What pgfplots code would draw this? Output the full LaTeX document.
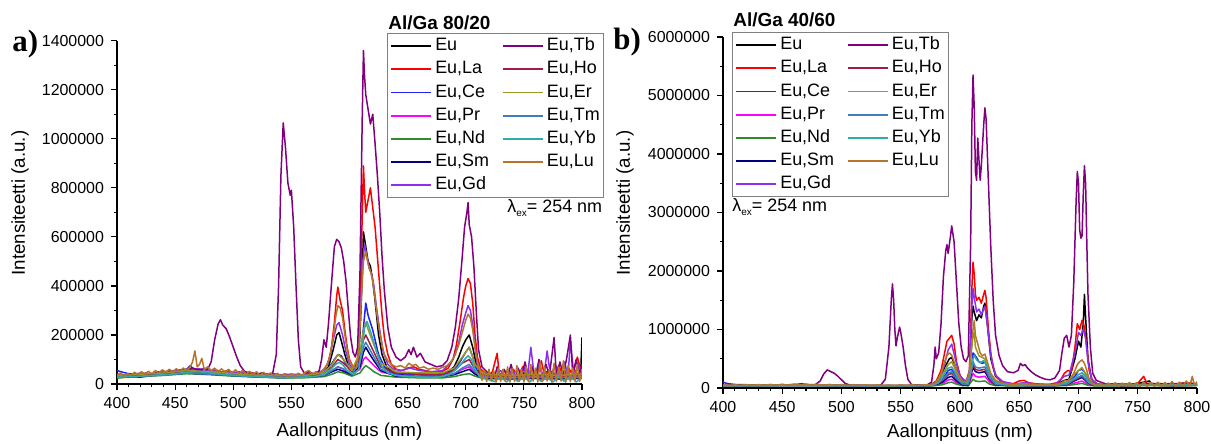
\documentclass[border=0pt]{standalone}
\usepackage{fontspec}
\setmainfont{Liberation Sans}
\newfontfamily\serifb{Liberation Serif}
\usepackage{pgfplots}
\pgfplotsset{compat=1.18}
\definecolor{cEu}{HTML}{000000}
\definecolor{cLa}{HTML}{FF0000}
\definecolor{cCe}{HTML}{1F1FFF}
\definecolor{cPr}{HTML}{FF00FF}
\definecolor{cNd}{HTML}{2E8B2E}
\definecolor{cSm}{HTML}{000080}
\definecolor{cGd}{HTML}{8C30F0}
\definecolor{cTb}{HTML}{800080}
\definecolor{cHo}{HTML}{A01E45}
\definecolor{cEr}{HTML}{999926}
\definecolor{cTm}{HTML}{3F7FBF}
\definecolor{cYb}{HTML}{33AAAA}
\definecolor{cLu}{HTML}{B5762C}
\pgfplotsset{
  spec/.style={
    scale only axis,
    axis x line*=bottom, axis y line*=left,
    xmin=400, xmax=800, xtick={400,450,500,550,600,650,700,750,800}, minor x tick num=4,
    ymin=0,
    tick align=outside, major tick length=3bp, minor tick length=1.6bp,
    tick style={black, line width=0.6bp},
    axis line style={line width=0.75bp},
    tick label style={font=\fontsize{8}{9}\selectfont},
    /pgf/number format/assume math mode=true,
    scaled y ticks=false,
    yticklabel style={/pgf/number format/fixed,/pgf/number format/1000 sep={}},
    label style={font=\fontsize{9.4}{11}\selectfont},
    xlabel={Aallonpituus (nm)}, ylabel={Intensiteetti (a.u.)},
    every axis plot/.append style={line width=0.75bp, line join=round},
    legend columns=2, legend cell align=left,
    legend style={draw=gray, line width=0.5bp, font=\fontsize{9}{10}\selectfont,
      inner xsep=1.5bp, inner ysep=0.5bp, column sep=1bp,
      nodes={inner xsep=0.5bp, inner ysep=1.5bp, text height=6.6bp, text depth=2bp},
      /tikz/every even column/.append style={column sep=6bp}},
    legend image code/.code={\draw[#1, line width=0.9bp] (0bp,0bp) -- (20bp,0bp);},
  }
}
\newcommand\speclegend{%
\addlegendimage{cEu}\addlegendentry{Eu}
\addlegendimage{cTb}\addlegendentry{Eu,Tb}
\addlegendimage{cLa}\addlegendentry{Eu,La}
\addlegendimage{cHo}\addlegendentry{Eu,Ho}
\addlegendimage{cCe}\addlegendentry{Eu,Ce}
\addlegendimage{cEr}\addlegendentry{Eu,Er}
\addlegendimage{cPr}\addlegendentry{Eu,Pr}
\addlegendimage{cTm}\addlegendentry{Eu,Tm}
\addlegendimage{cNd}\addlegendentry{Eu,Nd}
\addlegendimage{cYb}\addlegendentry{Eu,Yb}
\addlegendimage{cSm}\addlegendentry{Eu,Sm}
\addlegendimage{cLu}\addlegendentry{Eu,Lu}
\addlegendimage{cGd}\addlegendentry{Eu,Gd}
}
\begin{document}
\begin{tikzpicture}
\path[use as bounding box] (0,0) rectangle (605.5bp,222bp);
% ---------------- panel a ----------------
\begin{axis}[spec, at={(58.5bp,30bp)}, anchor=south west,
  width=232.5bp, height=171.65bp,
  ymax=1400000, ytick={0,200000,400000,600000,800000,1000000,1200000,1400000}, minor y tick num=1,
  xlabel style={at={(axis description cs:0.5,-0.14)},anchor=center},
  ylabel style={at={(axis description cs:-0.2086,0.527)},anchor=center,rotate=0},
  legend style={at={(0.5806,1.0224)},anchor=north west}]
\speclegend
% Eu
\addplot[cEu,forget plot] coordinates {(400,25e3)(410,30e3)(420,28e3)(430,35e3)(440,38e3)(450,45e3)(460,50e3)(470,48e3)(480,42e3)(490,38e3)(500,35e3)(510,32e3)(520,30e3)(530,28e3)(540,27e3)(550,28e3)(560,30e3)(570,32e3)(578,45e3)(582,70e3)(586,140e3)(589,200e3)(591,210e3)(593,175e3)(596,120e3)(599,75e3)(603,50e3)(607,60e3)(609,200e3)(611,450e3)(612,620e3)(614,560e3)(616,500e3)(618,480e3)(620,420e3)(622,340e3)(625,200e3)(628,120e3)(632,70e3)(638,45e3)(645,40e3)(655,45e3)(665,40e3)(675,38e3)(685,50e3)(690,70e3)(694,110e3)(697,150e3)(700,180e3)(703,200e3)(706,150e3)(709,80e3)(713,40e3)(720,30e3)(730,40e3)(740,25e3)(750,45e3)(760,25e3)(770,50e3)(780,30e3)(790,55e3)(795,30e3)(799,60e3)(800,190e3)};
% La
\addplot[cLa,forget plot] coordinates {(400,25e3)(405,35e3)(410,28e3)(415,38e3)(420,32e3)(425,42e3)(430,36e3)(435,48e3)(440,40e3)(445,50e3)(450,45e3)(455,55e3)(460,50e3)(465,62e3)(470,55e3)(475,60e3)(480,52e3)(485,58e3)(490,48e3)(495,55e3)(500,45e3)(505,50e3)(510,42e3)(515,48e3)(520,38e3)(525,45e3)(530,35e3)(535,42e3)(540,33e3)(545,40e3)(550,32e3)(555,38e3)(560,35e3)(565,45e3)(570,38e3)(575,48e3)(578,60e3)(581,80e3)(584,130e3)(587,250e3)(589,360e3)(590,395e3)(592,340e3)(594,300e3)(596,220e3)(598,150e3)(600,100e3)(603,70e3)(606,65e3)(608,150e3)(610,500e3)(612,890e3)(613,780e3)(614,700e3)(616,750e3)(618,800e3)(620,720e3)(622,640e3)(624,520e3)(626,400e3)(628,280e3)(630,190e3)(633,120e3)(636,80e3)(640,60e3)(645,55e3)(650,65e3)(655,70e3)(660,60e3)(665,55e3)(670,50e3)(675,48e3)(680,52e3)(685,65e3)(689,100e3)(692,160e3)(695,250e3)(698,350e3)(700,400e3)(702,430e3)(704,410e3)(706,330e3)(708,200e3)(710,110e3)(713,60e3)(717,45e3)(720,35e3)(723,50e3)(727,125e3)(729,30e3)(733,55e3)(737,25e3)(741,60e3)(745,30e3)(749,70e3)(753,30e3)(757,60e3)(761,35e3)(765,95e3)(768,30e3)(772,60e3)(776,35e3)(780,75e3)(784,30e3)(788,70e3)(792,35e3)(796,110e3)(800,40e3)};
% Ce
\addplot[cCe,forget plot] coordinates {(400,55e3)(405,48e3)(410,42e3)(420,40e3)(430,42e3)(440,45e3)(450,50e3)(455,55e3)(460,60e3)(463,75e3)(466,60e3)(470,55e3)(480,48e3)(490,42e3)(500,38e3)(510,34e3)(520,30e3)(530,28e3)(540,25e3)(550,26e3)(560,28e3)(570,30e3)(578,45e3)(583,70e3)(587,100e3)(590,120e3)(593,115e3)(596,90e3)(600,60e3)(605,45e3)(609,90e3)(611,180e3)(613,280e3)(614,330e3)(616,280e3)(618,250e3)(620,220e3)(622,180e3)(625,120e3)(630,70e3)(636,45e3)(645,35e3)(655,40e3)(665,35e3)(675,32e3)(685,45e3)(690,60e3)(695,90e3)(700,130e3)(703,150e3)(706,110e3)(710,50e3)(715,30e3)(725,25e3)(735,35e3)(745,20e3)(755,40e3)(765,20e3)(775,45e3)(785,25e3)(795,40e3)(800,25e3)};
% Pr
\addplot[cPr,forget plot] coordinates {(400,30e3)(420,35e3)(440,40e3)(460,50e3)(480,45e3)(500,38e3)(520,32e3)(540,30e3)(560,30e3)(578,38e3)(585,55e3)(590,70e3)(595,60e3)(602,40e3)(609,60e3)(612,100e3)(614,110e3)(617,95e3)(621,75e3)(627,50e3)(640,35e3)(660,32e3)(680,32e3)(690,42e3)(697,60e3)(703,70e3)(708,45e3)(715,28e3)(740,25e3)(760,30e3)(780,25e3)(800,30e3)};
% Nd
\addplot[cNd,forget plot] coordinates {(400,25e3)(420,30e3)(440,35e3)(460,42e3)(480,38e3)(500,32e3)(520,28e3)(540,25e3)(560,25e3)(578,30e3)(585,40e3)(590,50e3)(595,45e3)(602,32e3)(609,45e3)(612,65e3)(614,75e3)(617,65e3)(621,50e3)(627,35e3)(640,28e3)(660,25e3)(680,25e3)(690,30e3)(697,38e3)(703,42e3)(708,32e3)(715,22e3)(740,20e3)(760,22e3)(780,20e3)(800,22e3)};
% Sm
\addplot[cSm,forget plot] coordinates {(400,30e3)(420,33e3)(440,38e3)(460,45e3)(480,40e3)(500,35e3)(520,30e3)(540,28e3)(560,28e3)(578,35e3)(585,50e3)(590,60e3)(595,52e3)(602,38e3)(609,70e3)(612,130e3)(614,150e3)(617,125e3)(621,95e3)(627,55e3)(640,32e3)(660,30e3)(680,30e3)(690,38e3)(697,50e3)(703,60e3)(708,40e3)(715,25e3)(740,22e3)(760,25e3)(780,22e3)(800,25e3)};
% Gd
\addplot[cGd,forget plot] coordinates {(400,40e3)(410,35e3)(420,45e3)(430,40e3)(440,50e3)(450,55e3)(460,60e3)(470,62e3)(480,55e3)(490,50e3)(500,48e3)(510,45e3)(520,42e3)(530,40e3)(540,38e3)(550,40e3)(560,38e3)(570,42e3)(578,55e3)(582,90e3)(586,180e3)(589,240e3)(591,250e3)(594,200e3)(597,130e3)(600,80e3)(604,60e3)(607,80e3)(609,250e3)(611,480e3)(613,570e3)(615,520e3)(617,470e3)(619,450e3)(621,400e3)(623,320e3)(626,220e3)(629,130e3)(633,80e3)(638,60e3)(645,55e3)(652,65e3)(660,55e3)(670,50e3)(680,55e3)(686,80e3)(690,110e3)(694,170e3)(697,240e3)(700,290e3)(702,320e3)(704,300e3)(706,240e3)(708,150e3)(710,80e3)(714,45e3)(720,40e3)(725,25e3)(730,55e3)(735,20e3)(740,60e3)(745,25e3)(750,70e3)(753,25e3)(756,150e3)(759,30e3)(763,75e3)(767,25e3)(770,135e3)(773,30e3)(777,80e3)(781,30e3)(785,90e3)(788,30e3)(790,180e3)(793,35e3)(797,80e3)(800,40e3)};
% Tb
\addplot[cTb,forget plot] coordinates {(400,30e3)(405,38e3)(410,28e3)(415,40e3)(420,35e3)(425,45e3)(430,38e3)(435,50e3)(440,45e3)(445,55e3)(450,48e3)(455,58e3)(460,55e3)(465,65e3)(470,58e3)(475,62e3)(478,60e3)(481,90e3)(484,180e3)(487,245e3)(489,262e3)(491,240e3)(494,225e3)(497,190e3)(500,150e3)(503,110e3)(506,75e3)(510,50e3)(515,45e3)(520,40e3)(525,45e3)(530,38e3)(534,45e3)(537,120e3)(539,400e3)(541,850e3)(543,1065e3)(545,960e3)(547,820e3)(549,770e3)(550,790e3)(552,640e3)(554,400e3)(556,180e3)(558,70e3)(561,45e3)(565,50e3)(570,40e3)(574,55e3)(576,100e3)(578,180e3)(580,150e3)(582,250e3)(585,440e3)(587,560e3)(589,590e3)(591,580e3)(593,555e3)(595,500e3)(597,420e3)(599,300e3)(601,190e3)(603,130e3)(605,110e3)(607,150e3)(609,450e3)(611,1100e3)(612,1360e3)(613,1250e3)(614,1180e3)(616,1120e3)(618,1060e3)(620,1100e3)(622,980e3)(624,850e3)(626,700e3)(628,520e3)(630,380e3)(633,230e3)(636,150e3)(640,110e3)(644,95e3)(648,110e3)(651,140e3)(653,120e3)(655,150e3)(658,110e3)(661,125e3)(665,90e3)(670,80e3)(675,70e3)(680,75e3)(684,95e3)(688,150e3)(691,230e3)(694,350e3)(697,520e3)(699,640e3)(701,700e3)(702,740e3)(703,650e3)(705,600e3)(707,480e3)(709,300e3)(711,140e3)(714,70e3)(718,50e3)(722,40e3)(725,30e3)(727,70e3)(730,25e3)(733,60e3)(736,30e3)(739,80e3)(742,25e3)(745,65e3)(748,30e3)(751,90e3)(754,25e3)(757,70e3)(760,30e3)(763,100e3)(766,30e3)(769,80e3)(772,35e3)(776,190e3)(778,30e3)(781,90e3)(784,35e3)(787,110e3)(790,200e3)(792,40e3)(795,100e3)(798,40e3)(800,80e3)};
% Ho
\addplot[cHo,forget plot] coordinates {(400,32e3)(420,36e3)(440,42e3)(460,52e3)(480,46e3)(500,40e3)(520,34e3)(540,32e3)(560,32e3)(578,42e3)(585,70e3)(590,100e3)(595,85e3)(602,50e3)(609,110e3)(612,180e3)(614,200e3)(617,170e3)(621,130e3)(627,70e3)(640,45e3)(660,40e3)(680,40e3)(690,55e3)(697,85e3)(703,100e3)(708,60e3)(715,35e3)(740,30e3)(760,35e3)(780,30e3)(800,35e3)};
% Er
\addplot[cEr,forget plot] coordinates {(400,35e3)(420,40e3)(440,45e3)(460,55e3)(480,50e3)(500,42e3)(520,36e3)(540,34e3)(560,34e3)(578,45e3)(585,80e3)(590,120e3)(595,100e3)(602,55e3)(609,130e3)(612,220e3)(614,250e3)(617,210e3)(621,160e3)(627,85e3)(640,50e3)(660,45e3)(680,45e3)(690,65e3)(697,110e3)(703,150e3)(708,80e3)(715,40e3)(740,35e3)(760,40e3)(780,35e3)(800,40e3)};
% Tm
\addplot[cTm,forget plot] coordinates {(400,28e3)(420,32e3)(440,36e3)(460,44e3)(480,40e3)(500,34e3)(520,30e3)(540,28e3)(560,28e3)(578,35e3)(585,55e3)(590,70e3)(595,62e3)(602,40e3)(609,90e3)(612,150e3)(614,170e3)(617,145e3)(621,110e3)(627,60e3)(640,35e3)(660,30e3)(680,30e3)(690,42e3)(697,65e3)(703,80e3)(708,50e3)(715,28e3)(740,25e3)(760,28e3)(780,25e3)(800,28e3)};
% Yb
\addplot[cYb,forget plot] coordinates {(400,28e3)(410,30e3)(420,32e3)(430,35e3)(440,38e3)(450,42e3)(460,48e3)(470,50e3)(480,45e3)(490,40e3)(500,36e3)(510,33e3)(520,30e3)(530,28e3)(540,26e3)(550,27e3)(560,28e3)(570,30e3)(578,40e3)(584,60e3)(588,80e3)(591,88e3)(594,80e3)(598,55e3)(603,40e3)(608,60e3)(611,150e3)(613,230e3)(615,255e3)(617,230e3)(619,200e3)(621,170e3)(624,120e3)(628,70e3)(633,45e3)(640,35e3)(650,30e3)(660,28e3)(670,26e3)(680,30e3)(688,45e3)(694,70e3)(699,100e3)(702,115e3)(705,100e3)(708,60e3)(712,30e3)(718,20e3)(725,10e3)(730,30e3)(735,8e3)(740,28e3)(745,10e3)(750,30e3)(755,8e3)(760,32e3)(765,10e3)(770,28e3)(775,8e3)(780,30e3)(785,10e3)(790,32e3)(795,8e3)(800,28e3)};
% Lu
\addplot[cLu,forget plot] coordinates {(400,35e3)(403,45e3)(406,30e3)(409,42e3)(412,35e3)(415,48e3)(418,38e3)(421,50e3)(424,40e3)(427,52e3)(430,42e3)(433,55e3)(436,45e3)(439,58e3)(442,48e3)(445,60e3)(448,50e3)(451,62e3)(454,52e3)(457,65e3)(460,55e3)(463,70e3)(465,90e3)(467,135e3)(469,70e3)(471,80e3)(473,105e3)(475,60e3)(478,70e3)(481,55e3)(484,65e3)(487,50e3)(490,62e3)(493,48e3)(496,60e3)(499,45e3)(502,58e3)(505,42e3)(508,55e3)(511,40e3)(514,52e3)(517,38e3)(520,50e3)(523,35e3)(526,48e3)(529,35e3)(532,45e3)(535,32e3)(538,44e3)(541,32e3)(544,42e3)(547,30e3)(550,42e3)(553,32e3)(556,44e3)(559,35e3)(562,48e3)(565,55e3)(568,40e3)(571,50e3)(574,42e3)(577,55e3)(580,70e3)(583,110e3)(586,190e3)(588,270e3)(590,320e3)(592,310e3)(594,270e3)(596,200e3)(598,140e3)(600,95e3)(603,70e3)(606,65e3)(608,130e3)(610,330e3)(612,500e3)(614,540e3)(616,490e3)(618,460e3)(620,420e3)(622,350e3)(624,270e3)(626,210e3)(628,160e3)(630,120e3)(633,95e3)(636,80e3)(640,70e3)(644,75e3)(648,65e3)(651,85e3)(654,75e3)(657,80e3)(660,65e3)(664,70e3)(668,60e3)(672,65e3)(676,60e3)(680,68e3)(684,75e3)(688,95e3)(691,120e3)(694,160e3)(697,210e3)(700,260e3)(702,285e3)(704,270e3)(706,220e3)(708,150e3)(710,90e3)(712,60e3)(714,15e3)(716,55e3)(718,10e3)(720,60e3)(722,12e3)(724,55e3)(726,8e3)(728,65e3)(730,10e3)(732,60e3)(734,12e3)(736,70e3)(738,8e3)(740,62e3)(742,10e3)(744,75e3)(746,12e3)(748,60e3)(750,8e3)(752,70e3)(754,10e3)(756,80e3)(758,12e3)(760,65e3)(762,8e3)(764,90e3)(766,10e3)(768,70e3)(770,12e3)(772,60e3)(774,8e3)(776,85e3)(778,10e3)(780,70e3)(782,12e3)(784,95e3)(786,8e3)(788,75e3)(790,10e3)(792,65e3)(794,12e3)(796,80e3)(798,10e3)(800,60e3)};
\end{axis}
% ---------------- panel b ----------------
\begin{axis}[spec, at={(361.5bp,28bp)}, anchor=south west,
  width=237bp, height=175.5bp,
  ymax=6000000, ytick={0,1000000,2000000,3000000,4000000,5000000,6000000}, minor y tick num=1,
  xlabel style={at={(axis description cs:0.5,-0.128)},anchor=center},
  ylabel style={at={(axis description cs:-0.2068,0.527)},anchor=center,rotate=0},
  legend style={at={(0.019,1.0142)},anchor=north west}]
\speclegend
% Eu
\addplot[cEu,forget plot] coordinates {(400,35e3)(430,40e3)(460,45e3)(500,40e3)(540,35e3)(575,40e3)(582,100e3)(587,350e3)(591,500e3)(593,520e3)(596,380e3)(600,150e3)(605,90e3)(608,250e3)(610,1200e3)(611,1400e3)(612,1300e3)(614,1150e3)(616,1250e3)(618,1200e3)(620,1400e3)(621,1450e3)(623,1100e3)(626,500e3)(630,200e3)(636,100e3)(645,60e3)(655,80e3)(665,55e3)(680,50e3)(688,130e3)(692,150e3)(697,500e3)(700,800e3)(702,700e3)(704,1100e3)(705,1600e3)(706,1200e3)(708,500e3)(711,150e3)(716,60e3)(730,50e3)(745,60e3)(760,120e3)(762,50e3)(780,55e3)(800,60e3)};
% La
\addplot[cLa,forget plot] coordinates {(400,40e3)(420,45e3)(440,50e3)(460,55e3)(480,50e3)(500,45e3)(520,40e3)(540,40e3)(560,40e3)(575,50e3)(580,120e3)(584,300e3)(587,600e3)(589,800e3)(591,850e3)(593,900e3)(595,750e3)(597,450e3)(600,220e3)(603,130e3)(606,120e3)(608,300e3)(610,1700e3)(611,2150e3)(612,1950e3)(613,1600e3)(614,1500e3)(616,1550e3)(618,1450e3)(620,1600e3)(621,1670e3)(622,1550e3)(624,1000e3)(626,600e3)(628,350e3)(631,180e3)(635,110e3)(640,80e3)(645,75e3)(650,120e3)(654,130e3)(658,90e3)(665,70e3)(675,60e3)(684,100e3)(688,250e3)(691,300e3)(694,280e3)(697,700e3)(699,1100e3)(701,1000e3)(703,1160e3)(705,1050e3)(707,700e3)(709,300e3)(712,110e3)(716,70e3)(720,55e3)(730,70e3)(740,55e3)(750,80e3)(755,200e3)(758,60e3)(770,75e3)(780,60e3)(790,90e3)(800,70e3)};
% Ce
\addplot[cCe,forget plot] coordinates {(400,100e3)(403,80e3)(406,70e3)(410,60e3)(420,55e3)(440,50e3)(460,55e3)(467,75e3)(470,55e3)(490,45e3)(510,40e3)(540,35e3)(575,40e3)(582,80e3)(587,200e3)(590,300e3)(593,320e3)(596,220e3)(600,100e3)(606,70e3)(609,200e3)(611,600e3)(613,550e3)(616,450e3)(619,420e3)(621,450e3)(624,280e3)(628,130e3)(634,70e3)(645,50e3)(660,45e3)(680,45e3)(690,90e3)(697,200e3)(700,300e3)(703,320e3)(706,250e3)(709,100e3)(715,50e3)(730,45e3)(750,55e3)(770,50e3)(790,60e3)(800,55e3)};
% Pr
\addplot[cPr,forget plot] coordinates {(400,40e3)(440,45e3)(480,45e3)(520,38e3)(560,38e3)(578,45e3)(585,75e3)(590,135e3)(593,150e3)(597,90e3)(602,50e3)(607,45e3)(610,200e3)(611,250e3)(613,200e3)(616,185e3)(621,200e3)(625,100e3)(630,50e3)(640,45e3)(660,42e3)(680,42e3)(690,50e3)(697,85e3)(703,120e3)(708,60e3)(713,45e3)(740,42e3)(760,50e3)(780,42e3)(800,48e3)};
% Nd
\addplot[cNd,forget plot] coordinates {(400,35e3)(440,40e3)(480,40e3)(520,35e3)(560,35e3)(578,40e3)(585,55e3)(590,90e3)(593,100e3)(597,65e3)(602,40e3)(607,38e3)(610,120e3)(611,150e3)(613,120e3)(616,110e3)(621,120e3)(625,65e3)(630,40e3)(640,38e3)(660,36e3)(680,36e3)(690,42e3)(697,60e3)(703,80e3)(708,45e3)(713,38e3)(740,36e3)(760,42e3)(780,36e3)(800,40e3)};
% Sm
\addplot[cSm,forget plot] coordinates {(400,40e3)(440,45e3)(480,45e3)(520,40e3)(560,40e3)(578,45e3)(585,100e3)(590,180e3)(593,200e3)(597,120e3)(602,55e3)(607,50e3)(610,280e3)(611,350e3)(613,280e3)(616,260e3)(621,280e3)(625,140e3)(630,55e3)(640,45e3)(660,42e3)(680,42e3)(690,60e3)(697,125e3)(703,180e3)(708,90e3)(713,45e3)(740,42e3)(760,50e3)(780,42e3)(800,48e3)};
% Gd
\addplot[cGd,forget plot] coordinates {(400,45e3)(430,50e3)(460,55e3)(500,45e3)(540,42e3)(575,45e3)(582,110e3)(587,400e3)(590,650e3)(593,750e3)(596,500e3)(600,200e3)(605,110e3)(608,300e3)(610,1400e3)(611,1700e3)(612,1550e3)(614,1300e3)(616,1350e3)(618,1250e3)(620,1350e3)(621,1400e3)(623,1100e3)(626,550e3)(630,220e3)(636,110e3)(645,70e3)(655,90e3)(665,65e3)(680,60e3)(688,200e3)(692,220e3)(697,600e3)(700,950e3)(702,900e3)(704,1000e3)(706,850e3)(708,450e3)(711,150e3)(716,65e3)(730,60e3)(750,70e3)(770,65e3)(790,75e3)(800,65e3)};
% Tb
\addplot[cTb,forget plot] coordinates {(400,40e3)(410,45e3)(420,50e3)(430,45e3)(440,55e3)(450,50e3)(460,60e3)(470,55e3)(478,60e3)(482,120e3)(485,240e3)(488,310e3)(491,280e3)(494,250e3)(497,200e3)(500,140e3)(503,80e3)(507,50e3)(515,40e3)(525,40e3)(533,45e3)(537,150e3)(540,700e3)(542,1500e3)(543,1780e3)(544,1500e3)(545,1000e3)(546,720e3)(547,850e3)(549,1040e3)(550,950e3)(552,700e3)(554,380e3)(556,150e3)(559,60e3)(565,45e3)(572,50e3)(576,100e3)(578,400e3)(579,700e3)(580,500e3)(582,600e3)(584,1100e3)(586,1900e3)(588,2350e3)(589,2450e3)(590,2300e3)(592,2600e3)(593,2770e3)(595,2500e3)(597,1800e3)(599,1100e3)(601,700e3)(603,500e3)(605,450e3)(607,550e3)(609,2500e3)(610,4500e3)(611,5350e3)(612,4800e3)(613,3700e3)(614,3550e3)(615,4270e3)(616,3900e3)(617,3550e3)(618,3800e3)(620,4500e3)(621,4790e3)(622,4600e3)(624,3500e3)(626,2400e3)(628,1500e3)(630,900e3)(633,550e3)(636,380e3)(640,280e3)(645,260e3)(649,300e3)(651,420e3)(653,380e3)(655,400e3)(657,340e3)(660,280e3)(664,220e3)(668,180e3)(672,150e3)(676,140e3)(680,170e3)(684,300e3)(686,600e3)(688,850e3)(690,900e3)(692,700e3)(694,900e3)(696,1800e3)(698,3200e3)(699,3700e3)(700,3500e3)(701,2700e3)(702,2560e3)(703,2600e3)(704,3300e3)(705,3800e3)(706,3500e3)(707,2500e3)(708,1600e3)(710,700e3)(712,250e3)(715,130e3)(720,90e3)(725,60e3)(730,70e3)(740,60e3)(750,65e3)(760,80e3)(770,70e3)(780,75e3)(790,80e3)(800,75e3)};
% Ho
\addplot[cHo,forget plot] coordinates {(400,42e3)(440,48e3)(480,48e3)(520,42e3)(560,42e3)(578,48e3)(585,125e3)(590,225e3)(593,250e3)(597,150e3)(602,65e3)(607,55e3)(610,320e3)(611,400e3)(613,320e3)(616,300e3)(621,320e3)(625,160e3)(630,60e3)(640,48e3)(660,45e3)(680,45e3)(690,60e3)(697,140e3)(703,200e3)(708,100e3)(713,50e3)(740,45e3)(760,52e3)(780,45e3)(800,50e3)};
% Er
\addplot[cEr,forget plot] coordinates {(400,45e3)(440,50e3)(480,50e3)(520,45e3)(560,45e3)(578,50e3)(585,225e3)(590,400e3)(593,450e3)(597,270e3)(602,110e3)(607,90e3)(610,700e3)(611,900e3)(612,950e3)(613,700e3)(616,550e3)(621,500e3)(625,250e3)(630,90e3)(640,55e3)(660,50e3)(680,50e3)(690,100e3)(697,245e3)(703,350e3)(708,175e3)(713,60e3)(740,50e3)(760,55e3)(780,50e3)(800,55e3)};
% Tm
\addplot[cTm,forget plot] coordinates {(400,38e3)(440,42e3)(480,42e3)(520,38e3)(560,38e3)(578,42e3)(585,140e3)(590,250e3)(593,280e3)(597,170e3)(602,70e3)(607,60e3)(610,360e3)(611,450e3)(613,360e3)(616,340e3)(621,360e3)(625,180e3)(630,65e3)(640,45e3)(660,42e3)(680,42e3)(690,65e3)(697,155e3)(703,220e3)(708,110e3)(713,50e3)(740,42e3)(760,48e3)(780,42e3)(800,46e3)};
% Yb
\addplot[cYb,forget plot] coordinates {(400,35e3)(430,40e3)(460,45e3)(500,38e3)(540,35e3)(575,40e3)(582,90e3)(587,250e3)(590,340e3)(593,360e3)(596,260e3)(600,120e3)(606,80e3)(609,250e3)(611,500e3)(612,560e3)(614,480e3)(617,430e3)(620,470e3)(622,400e3)(625,250e3)(629,120e3)(635,70e3)(645,50e3)(660,45e3)(680,45e3)(690,90e3)(697,170e3)(700,230e3)(703,260e3)(706,200e3)(709,90e3)(715,45e3)(730,40e3)(750,55e3)(770,45e3)(790,60e3)(800,50e3)};
% Lu
\addplot[cLu,forget plot] coordinates {(400,50e3)(405,35e3)(410,55e3)(415,38e3)(420,58e3)(425,40e3)(430,60e3)(435,42e3)(440,62e3)(445,45e3)(450,65e3)(455,45e3)(460,68e3)(465,48e3)(470,70e3)(475,45e3)(480,65e3)(485,42e3)(490,62e3)(495,40e3)(500,60e3)(505,38e3)(510,58e3)(515,36e3)(520,55e3)(525,35e3)(530,52e3)(535,34e3)(540,50e3)(545,35e3)(550,52e3)(555,36e3)(560,55e3)(565,38e3)(570,58e3)(575,45e3)(580,100e3)(584,250e3)(587,450e3)(589,560e3)(591,600e3)(593,560e3)(595,450e3)(598,250e3)(601,130e3)(605,100e3)(608,250e3)(610,800e3)(611,1000e3)(612,1150e3)(613,900e3)(615,750e3)(617,600e3)(619,550e3)(621,580e3)(623,450e3)(626,250e3)(630,130e3)(635,90e3)(640,70e3)(646,60e3)(652,80e3)(658,65e3)(665,55e3)(675,50e3)(684,70e3)(688,120e3)(692,130e3)(696,250e3)(699,400e3)(701,450e3)(703,480e3)(705,420e3)(707,300e3)(709,150e3)(712,70e3)(716,30e3)(719,80e3)(722,25e3)(725,85e3)(728,30e3)(731,90e3)(734,25e3)(737,85e3)(740,30e3)(743,95e3)(746,25e3)(749,90e3)(752,30e3)(755,100e3)(758,25e3)(761,95e3)(764,30e3)(767,100e3)(770,25e3)(773,95e3)(776,30e3)(779,110e3)(782,25e3)(785,100e3)(788,30e3)(791,120e3)(794,35e3)(796,200e3)(798,40e3)(800,110e3)};
\end{axis}
% ---------------- annotations ----------------
\node[anchor=base west, inner sep=0, font=\fontsize{9.5}{11}\selectfont\bfseries] at (194bp,207bp) {Al/Ga 80/20};
\node[anchor=base west, inner sep=0, font=\fontsize{9.5}{11}\selectfont\bfseries] at (366.5bp,208.5bp) {Al/Ga 40/60};
\node[anchor=base west, inner sep=0, font=\fontsize{9}{11}\selectfont] at (253.5bp,115.5bp) {λ\raisebox{-0.35ex}{\fontsize{5}{6}\selectfont ex}= 254 nm};
\node[anchor=base west, inner sep=0, font=\fontsize{9}{11}\selectfont] at (366bp,116bp) {λ\raisebox{-0.35ex}{\fontsize{5}{6}\selectfont ex}= 254 nm};
\node[anchor=base west, inner sep=0, font=\fontsize{15.5}{18}\selectfont\serifb\bfseries] at (6bp,196bp) {a)};
\node[anchor=base west, inner sep=0, font=\fontsize{15.5}{18}\selectfont\serifb\bfseries] at (306.5bp,197bp) {b)};
\end{tikzpicture}
\end{document}
